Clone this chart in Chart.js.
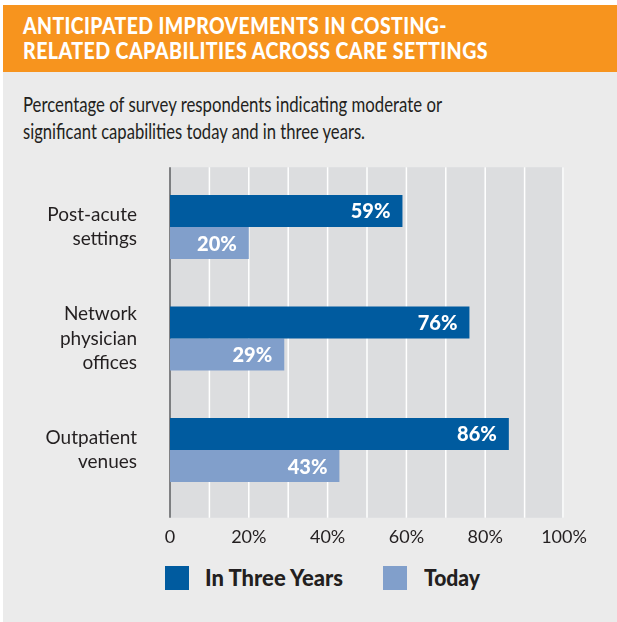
<!DOCTYPE html>
<html>
<head>
<meta charset="utf-8">
<script src="https://cdn.jsdelivr.net/npm/chart.js@4.4.1/dist/chart.umd.min.js"></script>
<style>
  html, body { margin: 0; padding: 0; background: #ffffff; }
  body { width: 617px; height: 622px; position: relative; overflow: hidden; font-family: Lato, "Open Sans", sans-serif; }
  #panel { position: absolute; left: 3px; top: 5px; width: 614px; height: 617px; background: #ebebeb; }
  #header { position: absolute; left: 3px; top: 5px; width: 614px; height: 67px; background: #f7941e; }
  .fit { position: absolute; white-space: nowrap; transform-origin: 0 0; }
  .title { left: 20px; color: #ffffff; font-weight: 900; font-size: 23.5px; line-height: 25px; letter-spacing: 0.5px; }
  .sub { left: 23px; color: #231f20; font-size: 21.5px; line-height: 27px; }
  #chartBox { position: absolute; left: 0; top: 140px; width: 617px; height: 420px; }
  .legendSwatch { position: absolute; top: 566px; width: 24px; height: 24px; }
  .legendText { color: #231f20; font-weight: 900; font-size: 23px; line-height: 24px; }
</style>
</head>
<body>
<div id="panel"></div>
<div id="header">
  <div class="fit title" style="top:8.4px" data-w="424">ANTICIPATED IMPROVEMENTS IN COSTING-</div>
  <div class="fit title" style="top:33.4px" data-w="465">RELATED CAPABILITIES ACROSS CARE SETTINGS</div>
</div>
<div class="fit sub" style="top:90.9px" data-w="419">Percentage of survey respondents indicating moderate or</div>
<div class="fit sub" style="top:117.9px" data-w="342">significant capabilities today and in three years.</div>
<div id="chartBox"><canvas id="barChart"></canvas></div>
<div id="legend"></div>

<script>
const categories = [
  ["Post-acute", "settings"],
  ["Network", "physician", "offices"],
  ["Outpatient", "venues"]
];
const seriesNames = ["In Three Years", "Today"];
const inThreeYears = [59, 76, 86];
const today = [20, 29, 43];
const seriesColors = ["#005b9f", "#819fcb"];

// squeeze a line of text to a given pixel width
function fitWidth(el, target) {
  const w = el.getBoundingClientRect().width;
  if (w > 0) el.style.transform = "scaleX(" + (target / w) + ")";
}

// grey plot panel, white 10% gridlines and the zero axis
const plotBackdrop = {
  id: "plotBackdrop",
  beforeDraw(chart) {
    const { ctx, chartArea } = chart;
    const x = chart.scales.x;
    const top = chartArea.top - 4;
    const bottom = chartArea.bottom + 12;
    ctx.save();
    ctx.fillStyle = "#dcdddf";
    ctx.fillRect(chartArea.left, top, chartArea.right - chartArea.left, bottom - top);
    ctx.strokeStyle = "#ffffff";
    ctx.lineWidth = 1.5;
    x.ticks.forEach(t => {
      if (t.value === 0) return;
      let px = x.getPixelForValue(t.value);
      if (t.value === 100) px -= 1;
      ctx.beginPath();
      ctx.moveTo(px, top);
      ctx.lineTo(px, bottom);
      ctx.stroke();
    });
    const zero = x.getPixelForValue(0);
    ctx.strokeStyle = "#5d5e60";
    ctx.lineWidth = 1.5;
    ctx.beginPath();
    ctx.moveTo(zero, top);
    ctx.lineTo(zero, bottom);
    ctx.stroke();
    ctx.restore();
  }
};

// percentage written inside the end of each bar
const barValues = {
  id: "barValues",
  afterDatasetsDraw(chart) {
    const { ctx } = chart;
    ctx.save();
    ctx.fillStyle = "#ffffff";
    ctx.font = "900 20px Lato, 'Open Sans', sans-serif";
    ctx.textAlign = "right";
    ctx.textBaseline = "alphabetic";
    chart.data.datasets.forEach((ds, i) => {
      chart.getDatasetMeta(i).data.forEach((bar, j) => {
        ctx.fillText(ds.data[j] + "%", bar.x - 12, bar.y + 7.5);
      });
    });
    ctx.restore();
  }
};

const ctx = document.getElementById("barChart").getContext("2d");
const chart = new Chart(ctx, {
  type: "bar",
  data: {
    labels: categories,
    datasets: [
      { label: seriesNames[0], data: inThreeYears, backgroundColor: seriesColors[0] },
      { label: seriesNames[1], data: today, backgroundColor: seriesColors[1] }
    ]
  },
  options: {
    indexAxis: "y",
    responsive: true,
    maintainAspectRatio: false,
    animation: false,
    layout: { padding: { top: 31.25, right: 53, left: 0, bottom: 0 } },
    datasets: { bar: { categoryPercentage: 0.574, barPercentage: 1.0, borderWidth: 0 } },
    plugins: {
      legend: { display: false },
      tooltip: { enabled: false }
    },
    scales: {
      x: {
        min: 0,
        max: 100,
        ticks: {
          stepSize: 10,
          autoSkip: false,
          maxRotation: 0,
          padding: 13,
          color: "#231f20",
          font: { family: "Lato, 'Open Sans', sans-serif", size: 18 },
          callback: v => v === 0 ? "0" : (v % 20 === 0 ? v + "%" : "")
        },
        grid: { display: false },
        border: { display: false },
        afterFit: s => { s.height = 54.25; s.paddingLeft = 0; s.paddingRight = 0; }
      },
      y: {
        ticks: {
          padding: 25,
          color: "#231f20",
          font: { family: "Lato, 'Open Sans', sans-serif", size: 19, lineHeight: 1.27 }
        },
        grid: { display: false },
        border: { display: false },
        afterFit: s => { s.width = 170; s.paddingTop = 0; s.paddingBottom = 0; }
      }
    }
  },
  plugins: [plotBackdrop, barValues]
});

// legend built from the datasets
const legendSpots = [{ box: 165, text: 205, w: 138 }, { box: 383, text: 424, w: 56 }];
const legend = document.getElementById("legend");
chart.data.datasets.forEach((ds, i) => {
  const sw = document.createElement("div");
  sw.className = "legendSwatch";
  sw.style.left = legendSpots[i].box + "px";
  sw.style.background = ds.backgroundColor;
  legend.appendChild(sw);
  const tx = document.createElement("div");
  tx.className = "fit legendText";
  tx.style.left = legendSpots[i].text + "px";
  tx.style.top = "565px";
  tx.dataset.w = legendSpots[i].w;
  tx.textContent = ds.label;
  legend.appendChild(tx);
});

document.querySelectorAll(".fit").forEach(el => fitWidth(el, +el.dataset.w));
</script>
</body>
</html>
